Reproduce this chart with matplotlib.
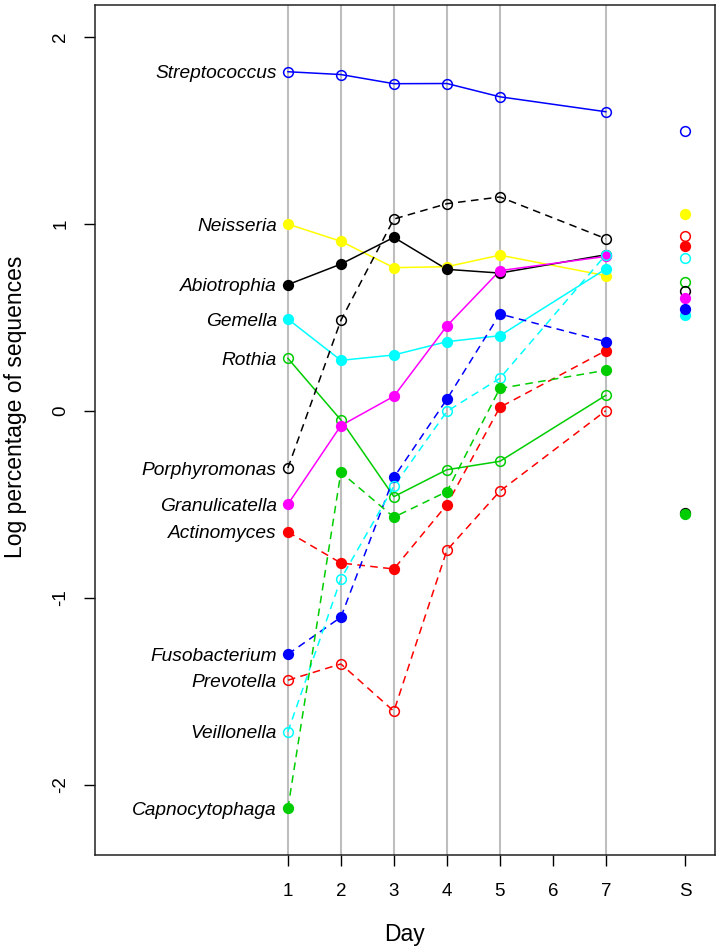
import numpy as np
import matplotlib
matplotlib.use('Agg')
import matplotlib.pyplot as plt

plt.rcParams['font.family'] = ['Liberation Sans', 'DejaVu Sans']

# sampled days (no sample on day 6) and position of the saliva column "S"
days = [1, 2, 3, 4, 5, 7]
s_pos = 8.5
xticks = [1, 2, 3, 4, 5, 6, 7, 8.5]
xtick_labels = ['1', '2', '3', '4', '5', '6', '7', 'S']
yticks = [-2, -1, 0, 1, 2]

taxa = ['Streptococcus', 'Neisseria', 'Abiotrophia', 'Gemella', 'Rothia',
        'Porphyromonas', 'Granulicatella', 'Actinomyces', 'Fusobacterium',
        'Prevotella', 'Veillonella', 'Capnocytophaga']
colors = ['#0000FF', '#FFFF00', '#000000', '#00FFFF', '#00CD00',
          '#000000', '#FF00FF', '#FF0000', '#0000FF',
          '#FF0000', '#00FFFF', '#00CD00']
filled = [False, True, True, True, False,
          False, True, True, True,
          False, False, True]
dashed = [False, False, False, False, False,
          True, False, True, True,
          True, True, True]

# log percentage of sequences, days 1,2,3,4,5,7
streptococcus = [1.813, 1.798, 1.749, 1.750, 1.679, 1.599]
neisseria = [0.998, 0.906, 0.765, 0.770, 0.832, 0.722]
abiotrophia = [0.674, 0.784, 0.927, 0.756, 0.736, 0.834]
gemella = [0.490, 0.269, 0.298, 0.369, 0.401, 0.758]
rothia = [0.280, -0.050, -0.460, -0.316, -0.271, 0.082]
porphyromonas = [-0.307, 0.483, 1.025, 1.107, 1.143, 0.920]
granulicatella = [-0.501, -0.080, 0.077, 0.453, 0.749, 0.825]
actinomyces = [-0.649, -0.815, -0.847, -0.503, 0.018, 0.321]
fusobacterium = [-1.303, -1.105, -0.357, 0.061, 0.517, 0.369]
prevotella = [-1.442, -1.355, -1.608, -0.747, -0.431, 0.000]
veillonella = [-1.718, -0.900, -0.405, -0.004, 0.173, 0.834]
capnocytophaga = [-2.128, -0.330, -0.570, -0.433, 0.119, 0.216]

series = [streptococcus, neisseria, abiotrophia, gemella, rothia,
          porphyromonas, granulicatella, actinomyces, fusobacterium,
          prevotella, veillonella, capnocytophaga]

# saliva sample values (same taxon order)
saliva = [1.494, 1.052, -0.545, 0.510, 0.686,
          0.642, 0.601, 0.882, 0.545,
          0.936, 0.815, -0.552]

W, H = 721, 952
fig = plt.figure(figsize=(W / 100, H / 100), dpi=100)
ax = fig.add_axes([95 / W, 1 - 855 / H, 620 / W, 850 / H])

for d in days:
    ax.axvline(d, color='#BEBEBE', lw=1.5, zorder=1)

for name, col, fil, dsh, vals, sv in zip(taxa, colors, filled, dashed, series, saliva):
    ls = (0, (5, 3.5)) if dsh else '-'
    fc = col if fil else 'none'
    ax.plot(days, vals, color=col, lw=1.1, ls=ls, zorder=2)
    ax.plot(days, vals, ls='none', marker='o', ms=7, mfc=fc, mec=col, mew=1.1, zorder=3)
    ax.plot([s_pos], [sv], ls='none', marker='o', ms=7, mfc=fc, mec=col, mew=1.1, zorder=3)
    ax.annotate(name, (days[0], vals[0]), xytext=(-8, 0), textcoords='offset points',
                ha='right', va='center_baseline', fontsize=13.8, style='italic')

ax.set_xlim(-2.64, 9.06)
ax.set_ylim(-2.377, 2.170)
ax.set_xticks(xticks)
ax.set_xticklabels(xtick_labels)
ax.set_yticks(yticks)
ax.set_yticklabels([str(t) for t in yticks], rotation=90, va='center')
ax.tick_params(direction='out', length=8, width=1, labelsize=13.5)
ax.tick_params(axis='x', pad=12)
ax.tick_params(axis='y', pad=10.5)
for sp in ax.spines.values():
    sp.set_linewidth(1.1)
    sp.set_color('#222222')

# axis titles placed where the reference has them
fig.text(405 / W, 1 - 935 / H, 'Day', fontsize=16.5, ha='center', va='center')
fig.text(16 / W, 1 - 407 / H, 'Log percentage of sequences', fontsize=16.5,
         rotation=90, ha='center', va='center')

fig.savefig('out.png', dpi=100)
